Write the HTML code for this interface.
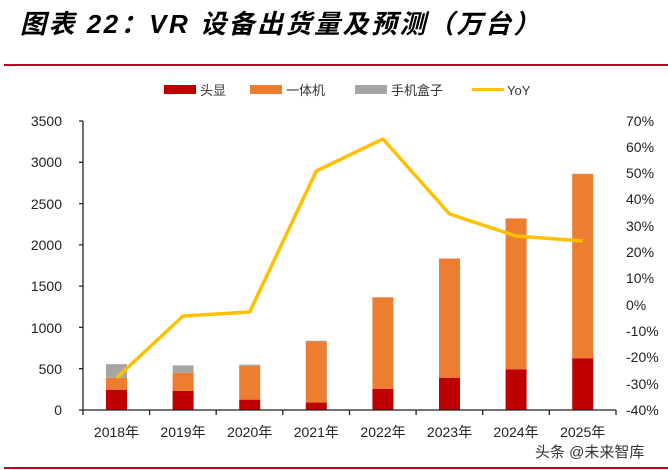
<!DOCTYPE html>
<html><head><meta charset="utf-8"><style>
html,body{margin:0;padding:0;background:#fff;width:668px;height:470px;overflow:hidden}
</style></head><body>
<svg width="668" height="470" xmlns="http://www.w3.org/2000/svg" font-family="Liberation Sans, Noto Sans CJK SC, sans-serif">
<text x="20" y="33" font-size="26" font-weight="bold" font-style="italic" fill="#000" letter-spacing="2.5">图表 22：VR 设备出货量及预测（万台）</text>
<rect x="4" y="64" width="664" height="2" fill="#c00020"/>
<rect x="4" y="467" width="664" height="2" fill="#c00020"/>
<g font-size="13" fill="#333">
<rect x="164" y="85" width="32" height="9" fill="#c00000"/><text x="200" y="95">头显</text>
<rect x="250" y="85" width="32" height="9" fill="#ed7d31"/><text x="286" y="95">一体机</text>
<rect x="355" y="85" width="32" height="9" fill="#a5a5a5"/><text x="391" y="95">手机盒子</text>
<rect x="472" y="88" width="32" height="3" fill="#ffc000"/><text x="507" y="95">YoY</text>
</g>
<g font-size="14" fill="#222" text-anchor="end">
<text x="62" y="415">0</text><text x="62" y="374">500</text><text x="62" y="333">1000</text><text x="62" y="291">1500</text><text x="62" y="250">2000</text><text x="62" y="209">2500</text><text x="62" y="167">3000</text><text x="62" y="126">3500</text>
</g>
<g font-size="14" fill="#222">
<text x="626" y="415">-40%</text><text x="626" y="389">-30%</text><text x="626" y="362">-20%</text><text x="626" y="336">-10%</text><text x="626" y="310">0%</text><text x="626" y="283">10%</text><text x="626" y="257">20%</text><text x="626" y="231">30%</text><text x="626" y="204">40%</text><text x="626" y="178">50%</text><text x="626" y="152">60%</text><text x="626" y="126">70%</text>
</g>
<g>
<rect x="106" y="364.2" width="21" height="13.6" fill="#a5a5a5"/><rect x="106" y="377.8" width="21" height="12" fill="#ed7d31"/><rect x="106" y="389.8" width="21" height="20.2" fill="#c00000"/>
<rect x="172.6" y="365.4" width="21" height="7.4" fill="#a5a5a5"/><rect x="172.6" y="372.8" width="21" height="18.2" fill="#ed7d31"/><rect x="172.6" y="391" width="21" height="19" fill="#c00000"/>
<rect x="239.2" y="364.6" width="21" height="1.2" fill="#a5a5a5"/><rect x="239.2" y="365.8" width="21" height="33.9" fill="#ed7d31"/><rect x="239.2" y="399.7" width="21" height="10.3" fill="#c00000"/>
<rect x="305.8" y="340.8" width="21" height="0.8" fill="#a5a5a5"/><rect x="305.8" y="341.5" width="21" height="61.1" fill="#ed7d31"/><rect x="305.8" y="402.6" width="21" height="7.4" fill="#c00000"/>
<rect x="372.4" y="297.3" width="21" height="91.7" fill="#ed7d31"/><rect x="372.4" y="389" width="21" height="21" fill="#c00000"/>
<rect x="439" y="258.5" width="21" height="119.3" fill="#ed7d31"/><rect x="439" y="377.8" width="21" height="32.2" fill="#c00000"/>
<rect x="505.6" y="218.4" width="21" height="151.1" fill="#ed7d31"/><rect x="505.6" y="369.5" width="21" height="40.5" fill="#c00000"/>
<rect x="572.2" y="173.8" width="21" height="184.6" fill="#ed7d31"/><rect x="572.2" y="358.4" width="21" height="51.6" fill="#c00000"/>
</g>
<g stroke="#222" stroke-width="1.3" fill="none">
<path d="M83 121V410H616"/>
<path d="M79 121H83M79 162.3H83M79 203.6H83M79 244.9H83M79 286.1H83M79 327.4H83M79 368.7H83M79 410H83"/>
<path d="M83 410v5M149.6 410v5M216.2 410v5M282.8 410v5M349.5 410v5M416.1 410v5M482.7 410v5M549.3 410v5M616 410v5"/>
</g>
<polyline points="116.5,378 183,316 249.7,312 316.3,171 383,139 449.5,214 516,236 582.7,241" fill="none" stroke="#ffc000" stroke-width="3.5" stroke-linejoin="round"/>
<g font-size="14" fill="#222" text-anchor="middle">
<text x="116.5" y="437">2018年</text><text x="183" y="437">2019年</text><text x="249.7" y="437">2020年</text><text x="316.3" y="437">2021年</text><text x="383" y="437">2022年</text><text x="449.5" y="437">2023年</text><text x="516" y="437">2024年</text><text x="582.7" y="437">2025年</text>
</g>
<text x="535" y="457" font-size="15" fill="#333">头条 @未来智库</text>
</svg>
</body></html>
